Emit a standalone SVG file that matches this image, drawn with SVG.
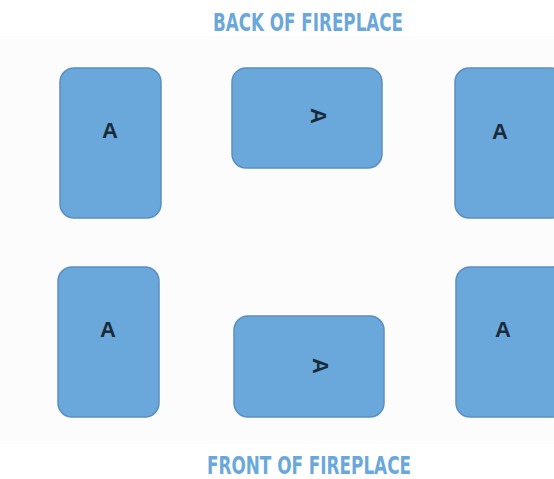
<svg xmlns="http://www.w3.org/2000/svg" width="554" height="479" viewBox="0 0 554 479">
  <style>
    .tile { fill: #6aa8db; stroke: #5b8fbf; stroke-width: 1.5; }
    .lbl { font-family: "Liberation Sans", Arial, sans-serif; font-weight: bold; font-size: 22px; fill: #1b2a3a; text-anchor: middle; }
    .title { font-family: "Liberation Sans Narrow", "DejaVu Sans Condensed", "Liberation Sans", sans-serif; font-weight: bold; font-size: 24px; fill: #6aa8dc; }
  </style>
  <rect width="554" height="479" fill="#ffffff"/>
  <rect x="0" y="36" width="554" height="408" fill="#fcfcfd"/>
  <text class="title" x="213" y="31" textLength="190" lengthAdjust="spacingAndGlyphs">BACK OF FIREPLACE</text>
  <g id="tile-back-left">
    <rect class="tile" x="60" y="68" width="101" height="150" rx="14"/>
    <text class="lbl" x="110" y="138">A</text>
  </g>
  <g id="tile-back-middle">
    <rect class="tile" x="232" y="68" width="150" height="100" rx="14"/>
    <text class="lbl" transform="translate(319,116) rotate(90)" x="0" y="8">A</text>
  </g>
  <g id="tile-back-right">
    <rect class="tile" x="455" y="68" width="110" height="150" rx="14"/>
    <text class="lbl" x="500" y="139">A</text>
  </g>
  <g id="tile-front-left">
    <rect class="tile" x="58" y="267" width="101" height="150" rx="14"/>
    <text class="lbl" x="108" y="337">A</text>
  </g>
  <g id="tile-front-middle">
    <rect class="tile" x="234" y="316" width="150" height="101" rx="14"/>
    <text class="lbl" transform="translate(321,366) rotate(90)" x="0" y="8">A</text>
  </g>
  <g id="tile-front-right">
    <rect class="tile" x="456" y="267" width="110" height="150" rx="14"/>
    <text class="lbl" x="503" y="337">A</text>
  </g>
  <g id="connectors"></g>
  <text class="title" x="207" y="474" textLength="204" lengthAdjust="spacingAndGlyphs">FRONT OF FIREPLACE</text>
</svg>
